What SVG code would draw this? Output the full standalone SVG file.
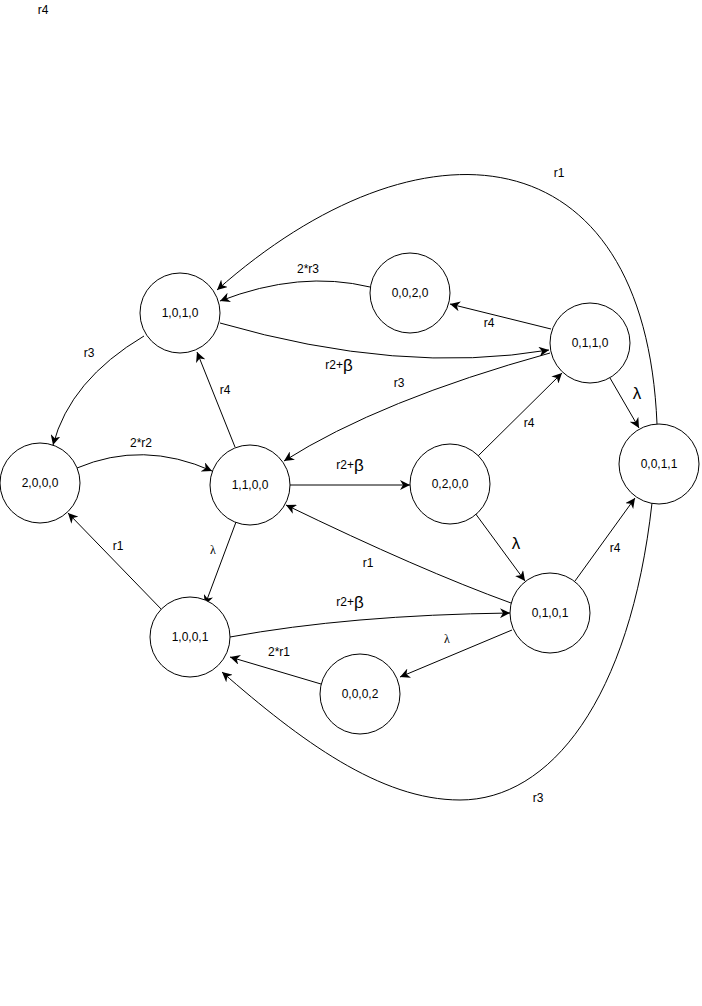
<svg xmlns="http://www.w3.org/2000/svg" width="702" height="1006" viewBox="0 0 702 1006">
  <style>
    .node circle { fill: #ffffff; stroke: #000000; stroke-width: 1; }
    .node text { font-family: "Liberation Sans", Arial, sans-serif; font-size: 12px; fill: #000000; text-anchor: middle; dominant-baseline: central; }
    .edge { fill: none; stroke: #000000; stroke-width: 1; marker-end: url(#arrow); }
    .lbl { font-family: "Liberation Sans", Arial, sans-serif; font-size: 12px; fill: #000000; text-anchor: middle; dominant-baseline: central; }
    .big { font-size: 17px; }
    .serif { font-family: "Liberation Serif", "Times New Roman", serif; }
  </style>
  <defs>
    <marker id="arrow" viewBox="0 0 10 10" refX="10" refY="5" markerWidth="10" markerHeight="10" markerUnits="userSpaceOnUse" orient="auto">
      <path d="M0,0 L10,5 L0,10 L3,5 z" fill="#000000"/>
    </marker>
  </defs>
  <rect width="702" height="1006" fill="#ffffff"/>

  <!-- transitions -->
  <g id="connectors">
    <path class="edge" d="M370,287 Q300,270 220,301"/>
    <path class="edge" d="M657,424 C645,130 420,110 217,290"/>
    <path class="edge" d="M220,323 Q400,375 549,350"/>
    <path class="edge" d="M550,353 Q380,400 284,461"/>
    <path class="edge" d="M551,329 L450,304"/>
    <path class="edge" d="M610,378 L639,428"/>
    <path class="edge" d="M478,456 L562,373"/>
    <path class="edge" d="M290,485 L410,485" stroke-width="1.3"/>
    <path class="edge" d="M475,513 L525,581"/>
    <path class="edge" d="M511,603 Q420,570 286,505"/>
    <path class="edge" d="M230,637 Q350,615 510,613"/>
    <path class="edge" d="M512,630 L400,677"/>
    <path class="edge" d="M321,684 L230,657"/>
    <path class="edge" d="M575,581 L635,498"/>
    <path class="edge" d="M652,503 C630,700 550,800 460,800 C380,800 300,740 222,672"/>
    <path class="edge" d="M144,336 Q70,380 53,445"/>
    <path class="edge" d="M77,468 Q143,440 212,471"/>
    <path class="edge" d="M235,447 L197,352"/>
    <path class="edge" d="M236,522 L205,605"/>
    <path class="edge" d="M163,611 L68,513"/>
  </g>

  <!-- transition rates -->
  <g id="labels">
    <text class="lbl" x="43" y="10">r4</text>
    <rect x="294" y="262" width="30" height="14" fill="#ffffff"/>
    <text class="lbl" x="308" y="269">2*r3</text>
    <text class="lbl" x="559" y="173">r1</text>
    <text class="lbl" x="339" y="365">r2+<tspan class="big">β</tspan></text>
    <text class="lbl" x="399" y="383">r3</text>
    <text class="lbl" x="489" y="323">r4</text>
    <text class="lbl big" x="637" y="393">λ</text>
    <text class="lbl" x="529" y="423">r4</text>
    <text class="lbl" x="350" y="465">r2+<tspan class="big">β</tspan></text>
    <text class="lbl big" x="516" y="543">λ</text>
    <text class="lbl" x="368" y="563">r1</text>
    <text class="lbl" x="350" y="602">r2+<tspan class="big">β</tspan></text>
    <text class="lbl serif" x="447" y="639">λ</text>
    <rect x="265" y="645" width="28" height="14" fill="#ffffff"/>
    <text class="lbl" x="279" y="652">2*r1</text>
    <text class="lbl" x="615" y="548">r4</text>
    <text class="lbl" x="538" y="798">r3</text>
    <text class="lbl" x="89" y="353">r3</text>
    <text class="lbl" x="141" y="443">2*r2</text>
    <text class="lbl" x="225" y="390">r4</text>
    <text class="lbl serif" x="213" y="550">λ</text>
    <text class="lbl" x="118" y="546">r1</text>
  </g>

  <!-- states -->
  <g id="s1010" class="node"><circle cx="180" cy="313" r="40"/><text x="180" y="313">1,0,1,0</text></g>
  <g id="s0020" class="node"><circle cx="410" cy="293" r="40"/><text x="410" y="293">0,0,2,0</text></g>
  <g id="s0110" class="node"><circle cx="590" cy="343" r="40"/><text x="590" y="343">0,1,1,0</text></g>
  <g id="s2000" class="node"><circle cx="40" cy="483" r="40"/><text x="40" y="483">2,0,0,0</text></g>
  <g id="s1100" class="node"><circle cx="250" cy="485" r="40"/><text x="250" y="485">1,1,0,0</text></g>
  <g id="s0200" class="node"><circle cx="450" cy="484" r="40"/><text x="450" y="484">0,2,0,0</text></g>
  <g id="s0011" class="node"><circle cx="659" cy="464" r="40"/><text x="659" y="464">0,0,1,1</text></g>
  <g id="s1001" class="node"><circle cx="190" cy="637" r="40"/><text x="190" y="637">1,0,0,1</text></g>
  <g id="s0101" class="node"><circle cx="550" cy="613" r="40"/><text x="550" y="613">0,1,0,1</text></g>
  <g id="s0002" class="node"><circle cx="360" cy="694" r="40"/><text x="360" y="694">0,0,0,2</text></g>
</svg>
